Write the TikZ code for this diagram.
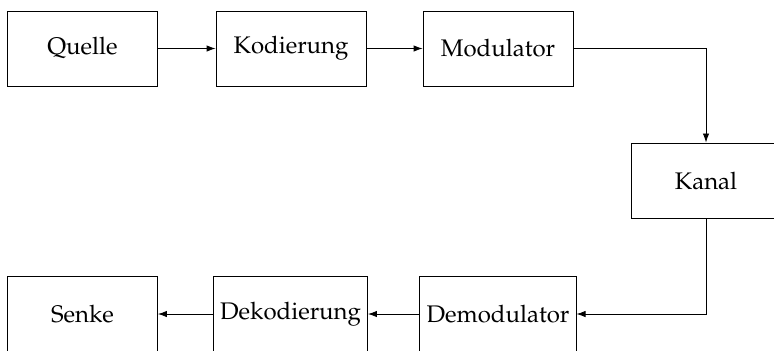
\documentclass[tikz,border=0pt]{standalone}
\usepackage[T1]{fontenc}
\usepackage{mathpazo}
\usepackage{tikz}
\usetikzlibrary{arrows.meta}

\begin{document}
\begin{tikzpicture}[x=0.5pt,y=-0.5pt,>={Latex[length=4.5pt,width=3.2pt]},
		block/.style={draw,rectangle,minimum width=75pt,minimum height=37.6pt,font=\fontsize{12}{14}\selectfont}]
		\useasboundingbox (0,0) rectangle (774,350);
		\node[block](quelle) at (82.5,48.5) {Quelle};
		\node[block](kod) at (291,48.5) {Kodierung};
		\node[block](mod) at (498,48.5) {Modulator};
		\node[block](kanal) at (706,180.5) {Kanal};
		\node[block](demod) at (498,314) {Demodulator};
		\node[block](dekod) at (290.5,314) {Dekodierung};
		\node[block](senke) at (82.5,314) {Senke};
		\draw[->] (quelle)--(kod);
		\draw[->] (kod)--(mod);
		\draw[->] (mod.east) -| (kanal.north);
		\draw[->] (kanal.south) |- (demod.east);
		\draw[->] (demod)--(dekod);
		\draw[->] (dekod)--(senke);
	\end{tikzpicture}
\end{document}
